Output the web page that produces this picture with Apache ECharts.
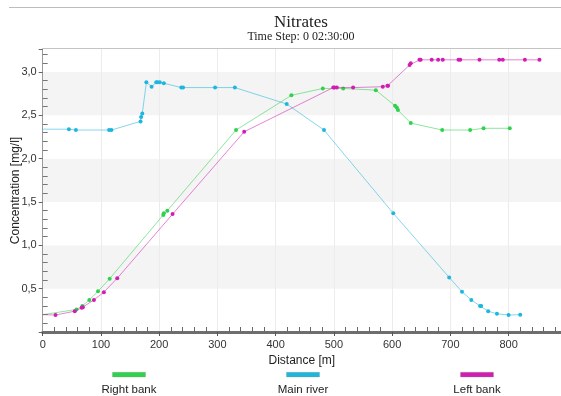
<!DOCTYPE html>
<html>
<head>
<meta charset="utf-8">
<script src="https://cdn.jsdelivr.net/npm/echarts@6/dist/echarts.min.js"></script>
<style>
html,body{margin:0;padding:0;background:#fff;}
#chart{width:561px;height:396px;}
</style>
</head>
<body>
<div id="chart"></div>
<script>
// ---- data (distance [m], concentration [mg/l]) ----
var seriesNames = ['Right bank', 'Main river', 'Left bank'];
var seriesColors = ['#2fd24c', '#1fb6de', '#d11db2'];

var rightBank = [
  [0,0.20],[58,0.26],[68,0.30],[80,0.37],[95,0.47],[115,0.615],[207,1.35],[208,1.37],[214,1.40],
  [332,2.33],[427,2.73],[481,2.81],[516,2.81],[572,2.79],[605,2.61],[608,2.59],[610,2.56],
  [632,2.41],[686,2.33],[734,2.33],[757,2.35],[802,2.35]
];
var mainRiver = [
  [0,2.34],[45,2.34],[57,2.33],[114,2.33],[118,2.33],[168,2.43],[169,2.48],[171,2.52],[178,2.88],
  [187,2.83],[195,2.88],[197,2.88],[201,2.88],[208,2.87],[238,2.82],[241,2.82],[296,2.82],[330,2.82],
  [419,2.63],[483,2.33],[602,1.37],[698,0.63],[720,0.465],[736,0.37],[751,0.30],[753,0.30],
  [765,0.24],[780,0.21],[800,0.196],[820,0.20]
];
var leftBank = [
  [0,0.20],[22,0.196],[55,0.24],[67,0.28],[69,0.285],[88,0.37],[105,0.46],[128,0.62],[223,1.36],
  [346,2.31],[499,2.82],[501,2.82],[505,2.82],[533,2.82],[584,2.83],[592,2.84],[593,2.84],
  [630,3.08],[632,3.10],[647,3.14],[649,3.14],[668,3.14],[679,3.14],[687,3.14],[714,3.14],
  [717,3.14],[750,3.14],[784,3.14],[790,3.14],[828,3.14],[853,3.14]
];
var xTicks = [0,100,200,300,400,500,600,700,800];
var yTicks = [0.5,1.0,1.5,2.0,2.5,3.0];

var chart = echarts.init(document.getElementById('chart'), null, {renderer:'canvas'});

function mk(name, data, color, z) {
  return {
    name: name, type: 'line', data: data.map(function(p, i){
      return i === 0 ? {value: p, symbol: 'none'} : {value: p};
    }),
    z: z,
    symbol: 'circle', symbolSize: 4, showSymbol: true,
    lineStyle: {color: color, width: 1, opacity: 0.55},
    itemStyle: {color: color},
    animation: false
  };
}

var legendCenters = [129, 303, 477];
var graphics = [
  {type:'line', shape:{x1:9, y1:7.5, x2:561, y2:7.5}, style:{stroke:'#bdbdbd', lineWidth:1.2}, silent:true},
  {type:'line', shape:{x1:42.7, y1:49, x2:561, y2:49}, style:{stroke:'#c4c4c4', lineWidth:2}, silent:true}
];
seriesNames.forEach(function(n, i){
  graphics.push({type:'rect', shape:{x:legendCenters[i]-16.5, y:372.3, width:33, height:4.6},
    style:{fill:seriesColors[i], stroke:'#888', lineWidth:0.3}, silent:true});
  graphics.push({type:'text', x:legendCenters[i], y:389.5,
    style:{text:n, fill:'#222', font:'11.5px "Liberation Sans", Arial, sans-serif',
      textAlign:'center', textVerticalAlign:'middle'}, silent:true});
});

chart.setOption({
  backgroundColor: '#ffffff',
  animation: false,
  title: {
    text: 'Nitrates', subtext: 'Time Step: 0 02:30:00',
    left: 296, top: 9, textAlign: 'center', itemGap: 0,
    textStyle: {fontFamily: '"Liberation Serif", "Times New Roman", serif', fontSize: 17, fontWeight: 'normal', color: '#222'},
    subtextStyle: {fontFamily: '"Liberation Serif", "Times New Roman", serif', fontSize: 12, color: '#222'}
  },
  grid: {left: 42.7, right: 0, top: 49, bottom: 64, containLabel: false, outerBoundsMode: 'none'},
  xAxis: {
    type: 'value', min: 0, max: 890, interval: 100,
    name: 'Distance [m]', nameLocation: 'middle', nameGap: 23, nameMoveOverlap: false,
    nameTextStyle: {fontFamily: '"Liberation Sans", Arial, sans-serif', fontSize: 12, color: '#222'},
    axisLine: {show: true, lineStyle: {color: '#6e6e6e', width: 3}},
    axisTick: {show: true, inside: false, length: 4, lineStyle: {color: '#555'}},
    minorTick: {show: true, splitNumber: 5, length: -5, lineStyle: {color: '#666'}},
    axisLabel: {margin: 7, fontFamily: '"Liberation Sans", Arial, sans-serif', fontSize: 11, color: '#333',
      formatter: function(v){ return xTicks.indexOf(v) >= 0 ? String(v) : ''; }},
    splitLine: {show: true, lineStyle: {color: '#ececec', width: 1}},
    splitArea: {show: false}
  },
  yAxis: {
    type: 'value', min: 0, max: 3.265, interval: 0.5,
    name: 'Concentration [mg/l]', nameLocation: 'middle', nameGap: 21, nameMoveOverlap: false,
    nameTextStyle: {fontFamily: '"Liberation Sans", Arial, sans-serif', fontSize: 12, color: '#222'},
    axisLine: {show: true, lineStyle: {color: '#9a9a9a', width: 1}},
    axisTick: {show: true, inside: false, length: 4, lineStyle: {color: '#666'}},
    minorTick: {show: true, splitNumber: 5, length: -5, lineStyle: {color: '#777'}},
    axisLabel: {margin: 6, fontFamily: '"Liberation Sans", Arial, sans-serif', fontSize: 11, color: '#333',
      formatter: function(v){
        var r = Math.round(v*10)/10;
        return yTicks.indexOf(r) >= 0 ? r.toFixed(1).replace('.', ',') : '';
      }},
    splitLine: {show: false},
    splitArea: {show: true, areaStyle: {color: ['#ffffff', '#f4f4f4']}}
  },
  graphic: graphics,
  series: [
    mk(seriesNames[1], mainRiver, seriesColors[1], 2),
    mk(seriesNames[0], rightBank, seriesColors[0], 3),
    mk(seriesNames[2], leftBank, seriesColors[2], 4)
  ]
});
</script>
</body>
</html>
